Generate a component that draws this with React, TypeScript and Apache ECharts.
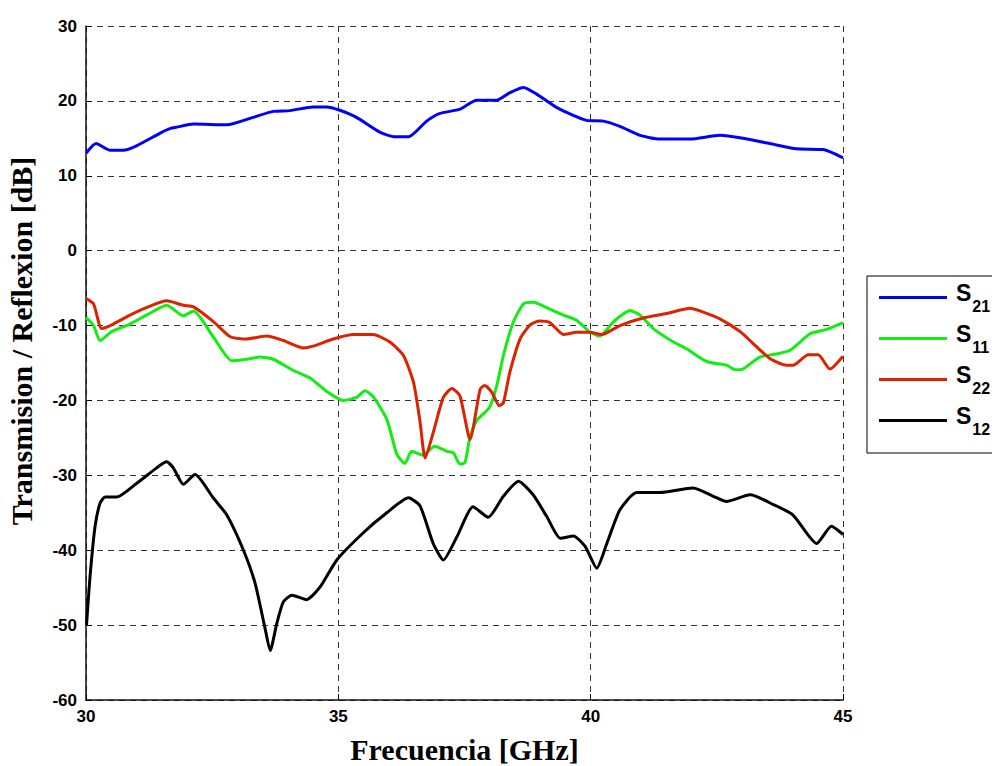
import React, { useEffect, useRef } from "react";
import * as echarts from "echarts";

const seriesNames = ["S21", "S11", "S22", "S12"];
const xTicks = [30, 35, 40, 45];
const yTicks = [-60, -50, -40, -30, -20, -10, 0, 10, 20, 30];

const s21Freq = [30.0, 30.2, 30.48, 30.74, 31.0, 31.47, 31.66, 31.8, 32.13, 32.79, 33.31, 33.71, 34.04, 34.5, 34.77, 35.03, 35.36, 35.83, 36.12, 36.39, 36.75, 37.0, 37.41, 37.74, 38.14, 38.4, 38.67, 38.93, 39.33, 39.92, 40.25, 40.58, 40.98, 41.37, 41.97, 42.56, 43.02, 43.55, 44.08, 44.61, 45.0];
const s21Db = [13.0, 14.3, 13.4, 13.4, 14.0, 15.7, 16.3, 16.5, 16.9, 16.8, 17.8, 18.6, 18.7, 19.2, 19.2, 18.75, 17.8, 15.8, 15.2, 15.2, 17.3, 18.3, 18.9, 20.1, 20.1, 21.1, 21.8, 20.9, 19.1, 17.4, 17.3, 16.6, 15.4, 14.9, 14.9, 15.4, 15.0, 14.3, 13.6, 13.5, 12.4];

const s11Freq = [30.0, 30.15, 30.28, 30.51, 30.87, 31.2, 31.6, 31.93, 32.13, 32.52, 32.89, 33.18, 33.45, 33.71, 34.11, 34.44, 34.77, 35.1, 35.36, 35.53, 35.69, 35.96, 36.16, 36.32, 36.45, 36.68, 36.91, 37.15, 37.28, 37.41, 37.51, 37.61, 37.74, 38.0, 38.14, 38.27, 38.47, 38.67, 38.86, 39.19, 39.46, 39.72, 39.99, 40.18, 40.45, 40.78, 40.98, 41.24, 41.64, 41.9, 42.3, 42.7, 42.86, 43.02, 43.35, 43.68, 43.95, 44.35, 44.68, 45.0];
const s11Db = [-8.9, -10.0, -12.0, -10.8, -9.8, -8.6, -7.3, -8.7, -8.05, -11.5, -14.7, -14.5, -14.2, -14.5, -16.0, -17.0, -18.8, -20.0, -19.6, -18.7, -19.5, -22.5, -27.2, -28.4, -26.8, -27.3, -26.1, -26.8, -27.0, -28.5, -28.3, -24.8, -22.7, -20.9, -18.0, -14.0, -9.5, -7.1, -6.9, -7.8, -8.6, -9.3, -10.9, -11.4, -9.5, -8.0, -8.6, -10.4, -12.2, -13.1, -14.8, -15.3, -15.9, -15.8, -14.2, -13.8, -13.3, -11.1, -10.5, -9.6];

const s22Freq = [30.0, 30.15, 30.31, 30.54, 30.87, 31.27, 31.6, 31.93, 32.13, 32.53, 32.86, 33.18, 33.58, 33.91, 34.31, 34.5, 34.9, 35.3, 35.69, 36.02, 36.29, 36.49, 36.62, 36.72, 36.88, 37.08, 37.25, 37.41, 37.61, 37.81, 37.9, 38.04, 38.19, 38.27, 38.4, 38.6, 38.8, 38.99, 39.19, 39.46, 39.72, 39.99, 40.22, 40.58, 41.04, 41.5, 41.97, 42.23, 42.56, 42.96, 43.22, 43.55, 43.88, 44.01, 44.31, 44.51, 44.74, 45.0];
const s22Db = [-6.4, -7.1, -10.4, -9.8, -8.6, -7.4, -6.7, -7.3, -7.5, -9.5, -11.5, -11.8, -11.4, -12.0, -13.0, -12.75, -11.8, -11.2, -11.2, -12.2, -14.0, -17.6, -22.9, -27.7, -24.3, -19.6, -18.4, -19.4, -25.2, -18.5, -18.0, -18.9, -20.7, -20.3, -16.2, -11.8, -9.9, -9.4, -9.6, -11.2, -10.9, -10.9, -11.2, -10.0, -9.0, -8.4, -7.7, -8.2, -9.1, -10.8, -12.4, -14.4, -15.3, -15.3, -13.9, -13.9, -15.8, -14.1];

const s12Freq = [30.01, 30.08, 30.18, 30.28, 30.38, 30.61, 31.0, 31.4, 31.6, 31.73, 31.93, 32.16, 32.52, 32.79, 33.12, 33.35, 33.55, 33.65, 33.78, 33.91, 34.08, 34.37, 34.64, 34.97, 35.49, 35.96, 36.39, 36.62, 36.88, 37.08, 37.35, 37.67, 37.97, 38.27, 38.57, 38.86, 39.13, 39.4, 39.66, 39.89, 40.12, 40.32, 40.58, 40.91, 41.37, 42.03, 42.43, 42.69, 43.16, 43.62, 44.01, 44.48, 44.77, 45.0];
const s12Db = [-50.0, -43.5, -36.8, -33.7, -32.9, -32.9, -31.1, -29.0, -28.2, -29.0, -31.2, -29.9, -33.0, -35.3, -40.0, -44.4, -50.5, -53.4, -49.8, -46.9, -46.0, -46.6, -44.9, -41.3, -37.7, -35.0, -33.0, -34.1, -39.1, -41.3, -38.2, -34.2, -35.6, -32.8, -30.8, -32.6, -35.5, -38.4, -38.1, -39.5, -42.4, -39.1, -34.6, -32.3, -32.3, -31.7, -32.8, -33.5, -32.6, -33.9, -35.3, -39.1, -36.8, -37.9];

const seriesColors = ["#0000ff", "#11ee11", "#dd2200", "#000000"];

const zip = (xs: number[], ys: number[]) => xs.map((x, i) => [x, ys[i]]);

export default function App() {
  const ref = useRef<HTMLDivElement>(null);
  useEffect(() => {
    if (!ref.current) return;
    const chart = echarts.init(ref.current, undefined, { renderer: "svg" });
    const data = [zip(s21Freq, s21Db), zip(s11Freq, s11Db), zip(s22Freq, s22Db), zip(s12Freq, s12Db)];
    const tickFont = { fontFamily: "Liberation Sans, Arial, sans-serif", fontWeight: "bold" as const, fontSize: 17, color: "#000" };
    const titleFont = { fontFamily: "Liberation Serif, Times New Roman, serif", fontWeight: "bold" as const, fontSize: 30, color: "#000" };
    chart.setOption({
      animation: false,
      backgroundColor: "#fff",
      grid: { left: 86, right: 149, top: 26, bottom: 66, containLabel: false, outerBoundsMode: "none" },
      xAxis: {
        type: "value",
        min: xTicks[0],
        max: xTicks[xTicks.length - 1],
        interval: 5,
        name: "Frecuencia [GHz]",
        nameLocation: "middle",
        nameGap: 34,
        nameTextStyle: titleFont,
        axisLine: { show: true, onZero: false, lineStyle: { color: "#111", width: 1.5 } },
        axisTick: { show: true, inside: true, length: 6, lineStyle: { color: "#000" } },
        axisLabel: { ...tickFont, margin: 8 },
        splitLine: { show: true, lineStyle: { color: "#333", type: [6, 5], width: 1 } },
      },
      yAxis: {
        type: "value",
        min: yTicks[0],
        max: yTicks[yTicks.length - 1],
        interval: 10,
        name: "Transmision / Reflexion [dB]",
        nameLocation: "middle",
        nameGap: 50,
        nameTextStyle: { ...titleFont, padding: [0, 0, 0, 44] },
        axisLine: { show: true, onZero: false, lineStyle: { color: "#111", width: 1.5 } },
        axisTick: { show: true, inside: true, length: 6, lineStyle: { color: "#000" } },
        axisLabel: { ...tickFont, margin: 9 },
        splitLine: { show: true, lineStyle: { color: "#333", type: [6, 5], width: 1 } },
      },
      legend: {
        orient: "vertical",
        left: 867,
        top: 276,
        icon: "rect",
        itemWidth: 68,
        itemHeight: 3,
        itemGap: 8,
        padding: [5, 10, 16, 12],
        borderColor: "#000",
        borderWidth: 1,
        backgroundColor: "#fff",
        data: seriesNames,
        formatter: (name: string) => `{b|${name.slice(0, 1)}}{sub|${name.slice(1)}}`,
        textStyle: {
          rich: {
            b: { fontFamily: "Liberation Sans, Arial, sans-serif", fontWeight: "bold", fontSize: 23, color: "#000", lineHeight: 33, verticalAlign: "top", padding: [0, 0, 0, 4] },
            sub: { fontFamily: "Liberation Sans, Arial, sans-serif", fontWeight: "bold", fontSize: 16, color: "#000", lineHeight: 33, verticalAlign: "bottom", padding: [0, 0, 0, 1] },
          },
        },
      },
      series: seriesNames.map((n, i) => ({
        name: n,
        type: "line",
        data: data[i],
        showSymbol: false,
        symbol: "none",
        smooth: 0.2,
        color: seriesColors[i],
        lineStyle: { color: seriesColors[i], width: 3 },
      })),
    });
    return () => chart.dispose();
  }, []);
  return <div ref={ref} style={{ width: 992, height: 766, position: "absolute", left: 0, top: 0 }} />;
}
